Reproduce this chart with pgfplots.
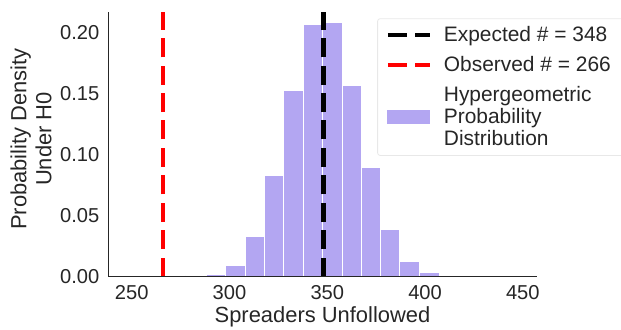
\documentclass[border=0pt]{standalone}
\usepackage{pgfplots}
\pgfplotsset{compat=1.18}
\usepackage{fontspec}
\setmainfont{Liberation Sans}
\definecolor{txt}{RGB}{38,38,38}
\definecolor{barc}{RGB}{179,166,242}
\definecolor{legframe}{RGB}{232,232,232}
\pgfplotsset{
  mylegline/.style={legend image code/.code={\draw[##1, sharp corners] (0bp,0bp) -- (42bp,0bp);}},
  mylegarea/.style={legend image code/.code={\fill[barc, sharp corners] (0bp,-6.7bp) rectangle (42bp,6.7bp);}},
}
\begin{document}
\begin{tikzpicture}
\path[use as bounding box] (-108.5bp,-53.5bp) rectangle (512.5bp,276.5bp);
\begin{axis}[
  at={(0,0)}, anchor=south west,
  scale only axis, width=428bp, height=264.5bp,
  xmin=238.1, xmax=457.0, ymin=0, ymax=0.2173,
  axis x line*=bottom, axis y line*=left,
  axis line style={txt, line width=1.25bp},
  axis on top,
  major tick length=0pt,
  xtick={250,300,350,400,450},
  ytick={0,0.05,0.1,0.15,0.2},
  /pgf/number format/assume math mode=true,
  yticklabel style={/pgf/number format/fixed, /pgf/number format/fixed zerofill, /pgf/number format/precision=2},
  xticklabel style={anchor=base, yshift=-22.8bp, font=\fontsize{20.2}{24}\selectfont, text=txt},
  yticklabel style={anchor=east, inner sep=0pt, xshift=-9bp, font=\fontsize{20.2}{24}\selectfont, text=txt},
  xlabel={Spreaders Unfollowed},
  ylabel={Probability Density\\Under H0},
  every axis x label/.style={at={(axis description cs:0.5,0)}, anchor=base, yshift=-46.2bp, font=\fontsize{22}{25}\selectfont, text=txt},
  every axis y label/.style={at={(axis description cs:-0.1811,0.5198)}, rotate=90, anchor=center, align=center, font=\fontsize{22}{25}\selectfont, text=txt},
  legend cell align=left,
  legend style={at={(axis description cs:0.6278,0.9762)}, anchor=north west,
    font=\fontsize{21}{22.5}\selectfont, text=txt,
    draw=legframe, line width=0.8bp, fill=white, rounded corners=2.5bp,
    inner xsep=8bp, inner ysep=6bp, row sep=9bp, column sep=10bp,
    cells={align=left}},
  clip=false,
]
\addplot[ybar interval, fill=barc, draw=white, line width=0.8bp, forget plot] coordinates {
(277.7,0.0008) (288.3,0.0017) (298.1,0.0094) (308.1,0.0330) (317.9,0.0832)
(327.8,0.1530) (337.9,0.2070) (347.7,0.2085) (357.5,0.1570) (367.4,0.0894)
(377.3,0.0385) (387.1,0.0127) (397.2,0.0031) (407.3,0.0012) (417.5,0.0012)};
\addplot[black, line width=4.3bp, dash pattern=on 19bp off 8.4bp, mylegline]
  coordinates {(348,0) (348,0.2173)};
\addlegendentry{\vphantom{Ep}Expected \# = 348}
\addplot[red, line width=4.3bp, dash pattern=on 19bp off 8.4bp, mylegline]
  coordinates {(266,0) (266,0.2173)};
\addlegendentry{\vphantom{Ep}Observed \# = 266\hspace*{12bp}}
\addlegendimage{mylegarea}
\addlegendentry{Hypergeometric\\Probability\\Distribution}
\end{axis}
\end{tikzpicture}
\end{document}
